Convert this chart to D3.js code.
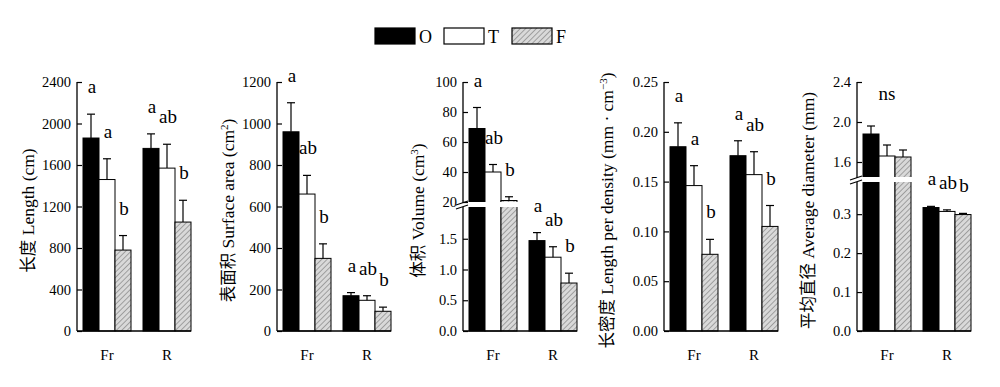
<!DOCTYPE html>
<html>
<head>
<meta charset="utf-8">
<script src="https://cdn.jsdelivr.net/npm/d3@7"></script>
<style>
  body { margin: 0; background: #fff; }
  svg { display: block; }
  text, tspan { font-family: "Liberation Serif", "Times New Roman", serif; fill: #000; }
  tspan.cjk { font-family: "Noto Sans CJK SC", sans-serif; font-weight: 400; fill: #000; }
</style>
</head>
<body>
<svg id="chart" width="1000" height="387"></svg>
<script>
// categories
const groups = ["Fr", "R"];
const treatments = ["O", "T", "F"];

// means and standard errors, [Fr, R] x [O, T, F]
const lengthMean = [[1860, 1460, 780], [1760, 1570, 1050]];
const lengthSe = [[230, 200, 140], [140, 230, 210]];
const areaMean = [[960, 660, 350], [170, 148, 95]];
const areaSe = [[140, 90, 70], [15, 22, 20]];
const volumeMean = [[69, 40, 21], [1.47, 1.2, 0.78]];
const volumeSe = [[14, 5, 2.5], [0.13, 0.17, 0.16]];
const densityMean = [[0.185, 0.146, 0.077], [0.176, 0.157, 0.105]];
const densitySe = [[0.024, 0.02, 0.015], [0.015, 0.023, 0.021]];
const diameterMean = [[1.88, 1.66, 1.65], [0.317, 0.307, 0.299]];
const diameterSe = [[0.08, 0.11, 0.07], [0.003, 0.004, 0.003]];

// significance letters
const lengthLetters = [["a", "a", "b"], ["a", "ab", "b"]];
const areaLetters = [["a", "ab", "b"], ["a", "ab", "b"]];
const volumeLetters = [["a", "ab", "b"], ["a", "ab", "b"]];
const densityLetters = [["a", "a", "b"], ["a", "ab", "b"]];
const diameterLetters = [["ns"], ["a", "ab", "b"]];

// tick values
const lengthTicks = [0, 400, 800, 1200, 1600, 2000, 2400];
const areaTicks = [0, 200, 400, 600, 800, 1000, 1200];
const volumeTicksLow = [0, 0.5, 1.0, 1.5];
const volumeTicksHigh = [20, 40, 60, 80, 100];
const densityTicks = [0, 0.05, 0.10, 0.15, 0.20, 0.25];
const diameterTicksLow = [0, 0.1, 0.2, 0.3];
const diameterTicksHigh = [1.6, 2.0, 2.4];

const svg = d3.select("#chart");
const yTop = 82, yBottom = 331;
const barW = 16, groupGap = 12, lead = 6;

// hatch for F
const defs = svg.append("defs");
const pat = defs.append("pattern")
    .attr("id", "hatch")
    .attr("patternUnits", "userSpaceOnUse")
    .attr("width", 3.8).attr("height", 3.8)
    .attr("patternTransform", "rotate(45)");
pat.append("rect").attr("width", 3.8).attr("height", 3.8).attr("fill", "#d9d9d9");
pat.append("line").attr("x1", 0).attr("y1", 0).attr("x2", 0).attr("y2", 3.8)
    .attr("stroke", "#333").attr("stroke-width", 0.7);

const fills = { O: "#000", T: "#fff", F: "url(#hatch)" };

const panels = [
    { mean: lengthMean, se: lengthSe, letters: lengthLetters, axisX: 77, titleX: 28,
      low: { domain: [0, 2400], ticks: lengthTicks, fmt: d3.format("d") },
      title: [["长度", true], [" Length (cm)"]] },
    { mean: areaMean, se: areaSe, letters: areaLetters, axisX: 277, titleX: 228,
      low: { domain: [0, 1200], ticks: areaTicks, fmt: d3.format("d") },
      title: [["表面积", true], [" Surface area (cm"], ["2", false, true], [")"]] },
    { mean: volumeMean, se: volumeSe, letters: volumeLetters, axisX: 463, titleX: 418,
      low: { domain: [0, 2], ticks: volumeTicksLow, fmt: d3.format(".1f"), top: 208 },
      high: { domain: [20, 100], ticks: volumeTicksHigh, fmt: d3.format("d"), bottom: 202 },
      title: [["体积", true], [" Volume (cm"], ["3", false, true], [")"]] },
    { mean: densityMean, se: densitySe, letters: densityLetters, axisX: 664, titleX: 607,
      low: { domain: [0, 0.25], ticks: densityTicks, fmt: d3.format(".2f") },
      title: [["长密度", true], [" Length per density (mm · cm"], ["−3", false, true], [")"]] },
    { mean: diameterMean, se: diameterSe, letters: diameterLetters, axisX: 857, titleX: 808,
      low: { domain: [0, 0.38], ticks: diameterTicksLow, fmt: d3.format(".1f"), top: 183 },
      high: { domain: [1.45, 2.4], ticks: diameterTicksHigh, fmt: d3.format(".1f"), bottom: 177 },
      title: [["平均直径", true], [" Average diameter (mm)"]] }
];

panels.forEach(p => {
    const g = svg.append("g");
    const x0 = p.axisX;
    const xEnd = x0 + lead + groups.length * treatments.length * barW + (groups.length - 1) * groupGap;

    const gx = d3.scaleBand().domain(groups)
        .range([x0 + lead, xEnd + groupGap]).paddingInner(0).paddingOuter(0);
    const bx = d3.scaleBand().domain(treatments).range([0, barW * 3]);

    const yLow = d3.scaleLinear().domain(p.low.domain)
        .range([yBottom, p.high ? p.low.top : yTop]);
    const yHigh = p.high ? d3.scaleLinear().domain(p.high.domain).range([p.high.bottom, yTop]) : null;
    const y = v => (p.high && v >= p.high.domain[0]) ? yHigh(v) : yLow(v);

    const cells = [];
    groups.forEach((grp, gi) => treatments.forEach((t, ti) => {
        cells.push({ grp, t, gi, ti, v: p.mean[gi][ti], e: p.se[gi][ti] });
    }));

    const barX = d => gx(d.grp) + bx(d.t);

    // bars
    g.selectAll("rect.bar").data(cells).join("rect")
        .attr("class", "bar")
        .attr("x", barX).attr("width", barW)
        .attr("y", d => y(d.v)).attr("height", d => yBottom - y(d.v))
        .attr("fill", d => fills[d.t])
        .attr("stroke", "#000").attr("stroke-width", 1);

    // error bars (upper)
    const eb = g.selectAll("g.err").data(cells).join("g").attr("class", "err")
        .attr("stroke", "#000").attr("stroke-width", 1.2);
    eb.append("line")
        .attr("x1", d => barX(d) + barW / 2).attr("x2", d => barX(d) + barW / 2)
        .attr("y1", d => y(d.v)).attr("y2", d => y(d.v + d.e));
    eb.append("line")
        .attr("x1", d => barX(d) + barW / 2 - 4).attr("x2", d => barX(d) + barW / 2 + 4)
        .attr("y1", d => y(d.v + d.e)).attr("y2", d => y(d.v + d.e));

    // axis break band
    if (p.high) {
        g.append("rect").attr("x", x0 - 2).attr("width", xEnd - x0 + 4)
            .attr("y", p.high.bottom).attr("height", p.low.top - p.high.bottom - 1)
            .attr("fill", "#fff");
    }

    // axes
    const addAxis = (scale, seg) => {
        const a = g.append("g").attr("transform", `translate(${x0},0)`)
            .call(d3.axisLeft(scale).tickValues(seg.ticks).tickFormat(seg.fmt)
                .tickSizeInner(-5).tickSizeOuter(0).tickPadding(6));
        a.select(".domain").remove();
        a.selectAll(".tick line").attr("stroke", "#000").attr("stroke-width", 1.2);
        a.selectAll(".tick text").attr("font-size", 14.5).attr("fill", "#000");
    };
    addAxis(yLow, p.low);
    const axisLine = (y1, y2) => g.append("line").attr("x1", x0).attr("x2", x0)
        .attr("y1", y1).attr("y2", y2).attr("stroke", "#000").attr("stroke-width", 1.3);
    if (p.high) {
        addAxis(yHigh, p.high);
        axisLine(yTop, p.high.bottom + 1);
        axisLine(p.low.top - 1, yBottom);
        [p.high.bottom + 1, p.low.top - 1].forEach(yy => {
            g.append("line").attr("x1", x0 - 7).attr("x2", x0 + 5)
                .attr("y1", yy + 2).attr("y2", yy - 2)
                .attr("stroke", "#000").attr("stroke-width", 1.1);
        });
    } else {
        axisLine(yTop, yBottom);
    }
    g.append("line").attr("x1", x0).attr("x2", xEnd)
        .attr("y1", yBottom).attr("y2", yBottom)
        .attr("stroke", "#000").attr("stroke-width", 1.3);

    // category labels
    g.selectAll("text.cat").data(groups).join("text")
        .attr("class", "cat")
        .attr("x", d => gx(d) + barW * 1.5).attr("y", 360)
        .attr("text-anchor", "middle").attr("font-size", 15)
        .text(d => d);

    // significance letters
    groups.forEach((grp, gi) => {
        const lets = p.letters[gi];
        if (lets.length === 1) {
            const capTop = d3.min(cells.filter(c => c.gi === gi), c => y(c.v + c.e));
            g.append("text").attr("x", gx(grp) + barW * 1.5).attr("y", capTop - 26)
                .attr("text-anchor", "middle").attr("font-size", 19).text(lets[0]);
        } else {
            lets.forEach((l, ti) => {
                const c = cells.find(c => c.gi === gi && c.ti === ti);
                g.append("text").attr("x", barX(c) + barW / 2 + 1).attr("y", y(c.v + c.e) - 21)
                    .attr("text-anchor", "middle").attr("font-size", 19).text(l);
            });
        }
    });

    // y title
    const tt = g.append("text")
        .attr("transform", `translate(${p.titleX},${(yTop + yBottom) / 2 + 4}) rotate(-90)`)
        .attr("text-anchor", "middle").attr("dy", "0.35em").attr("font-size", 17.5);
    p.title.forEach(([s, cjk, sup]) => {
        const ts = tt.append("tspan").text(s);
        if (cjk) ts.attr("class", "cjk").attr("font-size", 16.5);
        if (sup) ts.attr("font-size", 11).attr("baseline-shift", "super");
    });
});

// legend
const legend = svg.append("g");
const legX = d3.scaleOrdinal().domain(treatments).range([375, 444, 512]);
legend.selectAll("rect").data(treatments).join("rect")
    .attr("x", d => legX(d)).attr("y", 28).attr("width", 40).attr("height", 16)
    .attr("fill", d => fills[d]).attr("stroke", "#000").attr("stroke-width", 1.2);
legend.selectAll("text").data(treatments).join("text")
    .attr("x", d => legX(d) + 44).attr("y", 43).attr("font-size", 18)
    .text(d => d);
</script>
</body>
</html>
